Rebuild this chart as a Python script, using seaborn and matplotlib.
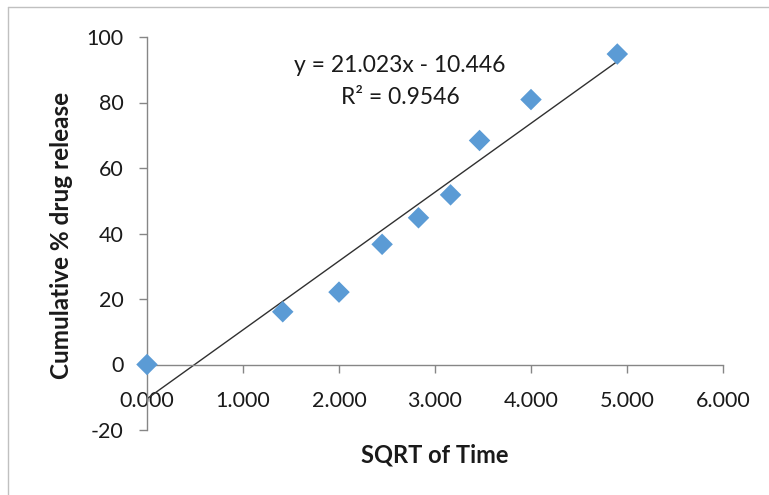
import matplotlib
matplotlib.use("Agg")
import matplotlib.pyplot as plt
import seaborn as sns
import numpy as np
import pandas as pd
from matplotlib.lines import Line2D

sqrt_time = [0.0, 1.414, 2.0, 2.449, 2.828, 3.162, 3.464, 4.0, 4.899]
release = [0.0, 16.1, 22.1, 36.7, 44.8, 51.8, 68.4, 80.9, 94.8]
slope = 21.023
intercept = -10.446
r2 = 0.9546
x_ticks = [0, 1, 2, 3, 4, 5, 6]
y_ticks = [-20, 0, 20, 40, 60, 80, 100]

sns.set_style("white")
plt.rcParams['font.family'] = ['Lato', 'DejaVu Sans']

df = pd.DataFrame({"x": sqrt_time, "y": release})

fig = plt.figure(figsize=(7.69, 4.95), dpi=100)
ax = fig.add_axes([147/769, 1-430/495, (723-147)/769, (430-37)/495])

trend_x = np.array([min(sqrt_time), max(sqrt_time)])
ax.plot(trend_x, slope*trend_x + intercept, color="#303030", lw=1.0, zorder=2)
sns.scatterplot(data=df, x="x", y="y", marker="D", s=120, color="#5B9BD5",
                edgecolor="none", ax=ax, zorder=3, clip_on=False)

ax.set_xlim(0, 6)
ax.set_ylim(-20, 100)
ax.set_xticks(x_ticks)
ax.set_xticklabels([f"{v:.3f}" for v in x_ticks])
ax.set_yticks(y_ticks)
ax.set_yticklabels([str(v) for v in y_ticks])

for s in ["top", "right"]:
    ax.spines[s].set_visible(False)
ax.spines["bottom"].set_position(("data", 0))
for s in ["left", "bottom"]:
    ax.spines[s].set_color("#868686")
    ax.spines[s].set_linewidth(1.0)
ax.tick_params(axis="both", direction="out", length=6, width=1.0, color="#868686",
               labelsize=15.5, labelcolor="#1a1a1a")
ax.tick_params(axis="x", pad=13)
ax.tick_params(axis="y", pad=11)
ax.tick_params(left=True, bottom=True)

ax.set_xlabel("")
ax.set_ylabel("")
fig.text(435/769, 1-455/495, "SQRT of Time", ha="center", va="center",
         fontsize=17, fontweight="bold", color="#1a1a1a")
fig.text(62/769, 1-235/495, "Cumulative % drug release", ha="center", va="center",
         rotation=90, fontsize=17.5, fontweight="bold", color="#1a1a1a")

fig.text(400/769, 1-66/495, f"y = {slope}x - {abs(intercept)}", ha="center",
         va="center", fontsize=16.5, color="#1a1a1a")
fig.text(400/769, 1-97/495, f"R² = {r2}", ha="center", va="center",
         fontsize=16.5, color="#1a1a1a")

# outer chart border (left and top visible)
fig.add_artist(Line2D([8/769, 8/769], [0, 1-7/495], transform=fig.transFigure,
                      color="#c0c0c0", lw=1))
fig.add_artist(Line2D([8/769, 1], [1-7/495, 1-7/495], transform=fig.transFigure,
                      color="#c0c0c0", lw=1))

fig.savefig("out.png", dpi=100)
